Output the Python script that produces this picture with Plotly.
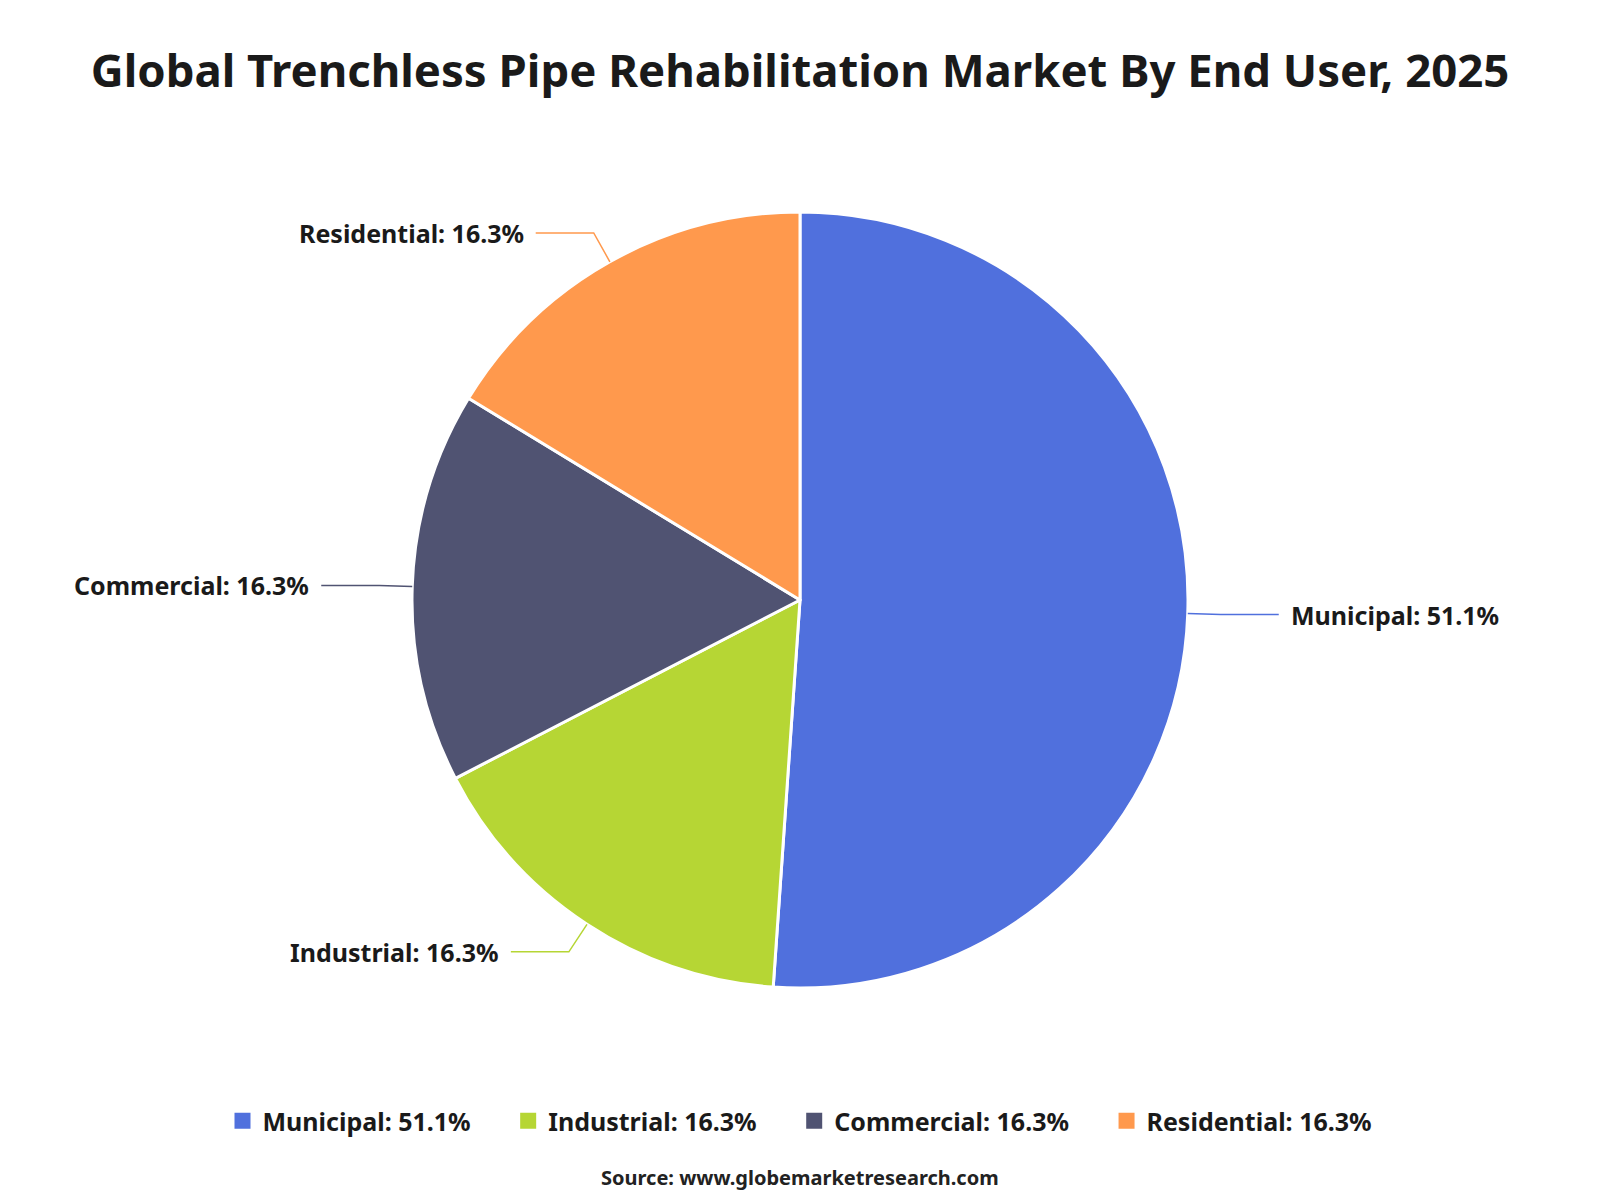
import math
import plotly.graph_objects as go

# ---- data ----
categories = ["Municipal", "Industrial", "Commercial", "Residential"]
shares = [51.1, 16.3, 16.3, 16.3]
colors = ["#5070dd", "#b6d634", "#505372", "#ff994d"]
title_text = "Global Trenchless Pipe Rehabilitation Market By End User, 2025"
source_text = "Source: www.globemarketresearch.com"

W, H = 1600, 1200
FONT = "Noto Sans"
TXT = "#1a1a1a"

# pie geometry (pixels)
cx, cy, R = 800, 600, 388
len1, len2 = 33, 58

labels = [f"{c}: {v:.1f}%" for c, v in zip(categories, shares)]

fig = go.Figure()
fig.add_trace(go.Pie(
    labels=labels,
    values=shares,
    sort=False,
    direction="clockwise",
    rotation=0,
    marker=dict(colors=colors, line=dict(color="white", width=3)),
    textinfo="none",
    hoverinfo="label",
    domain=dict(x=[0, 1], y=[(H - cy - R) / H, (H - cy + R) / H]),
    showlegend=False,
))

# legend entries (square swatches)
n = len(labels)
for i, (lab, col) in enumerate(zip(labels, colors)):
    pad = "&nbsp;" * 5 if i < n - 1 else ""
    fig.add_trace(go.Scatter(
        x=[None], y=[None], mode="markers", name=f"<b>{lab}</b>{pad}",
        marker=dict(symbol="square", size=20, color=col),
        showlegend=True, hoverinfo="skip",
    ))

def px(x, y):
    return x / W, 1 - y / H

shapes, annotations = [], []
total = sum(shares)
cum = 0.0
for lab, v, col in zip(labels, shares, colors):
    mid = (cum + v / 2) / total * 2 * math.pi
    cum += v
    sx, sy = math.sin(mid), -math.cos(mid)
    x0, y0 = cx + R * sx, cy + R * sy
    x1, y1 = cx + (R + len1) * sx, cy + (R + len1) * sy
    side = 1 if sx >= 0 else -1
    x2, y2 = x1 + side * len2, y1
    p0, p1, p2 = px(x0, y0), px(x1, y1), px(x2, y2)
    shapes.append(dict(
        type="path", xref="paper", yref="paper",
        path=f"M {p0[0]} {p0[1]} L {p1[0]} {p1[1]} L {p2[0]} {p2[1]}",
        line=dict(color=col, width=1.5),
    ))
    tx, ty = px(x2 + side * 10, y2)
    annotations.append(dict(
        x=tx, y=ty, xref="paper", yref="paper", text=f"<b>{lab}</b>",
        showarrow=False, xanchor="left" if side > 0 else "right", yanchor="middle",
        font=dict(family=FONT, size=25, color=TXT),
    ))

annotations.append(dict(
    x=0.5, y=1 - 1177 / H, xref="paper", yref="paper",
    text=f"<b>{source_text}</b>", showarrow=False, xanchor="center", yanchor="middle",
    font=dict(family=FONT, size=20, color="#222222"),
))

fig.update_layout(
    width=W, height=H,
    margin=dict(l=0, r=0, t=0, b=0),
    paper_bgcolor="white", plot_bgcolor="white",
    xaxis=dict(visible=False), yaxis=dict(visible=False),
    title=dict(text=f"<b>{title_text}</b>", x=0.5, xanchor="center",
               y=1 - 71 / H, yanchor="middle",
               font=dict(family=FONT, size=45.5, color=TXT)),
    legend=dict(orientation="h", x=0.5, xanchor="center", y=1 - 1121 / H, yanchor="middle",
                font=dict(family=FONT, size=25, color=TXT), itemwidth=30,
                traceorder="normal"),
    shapes=shapes,
    annotations=annotations,
)

fig.write_html("out.html")
